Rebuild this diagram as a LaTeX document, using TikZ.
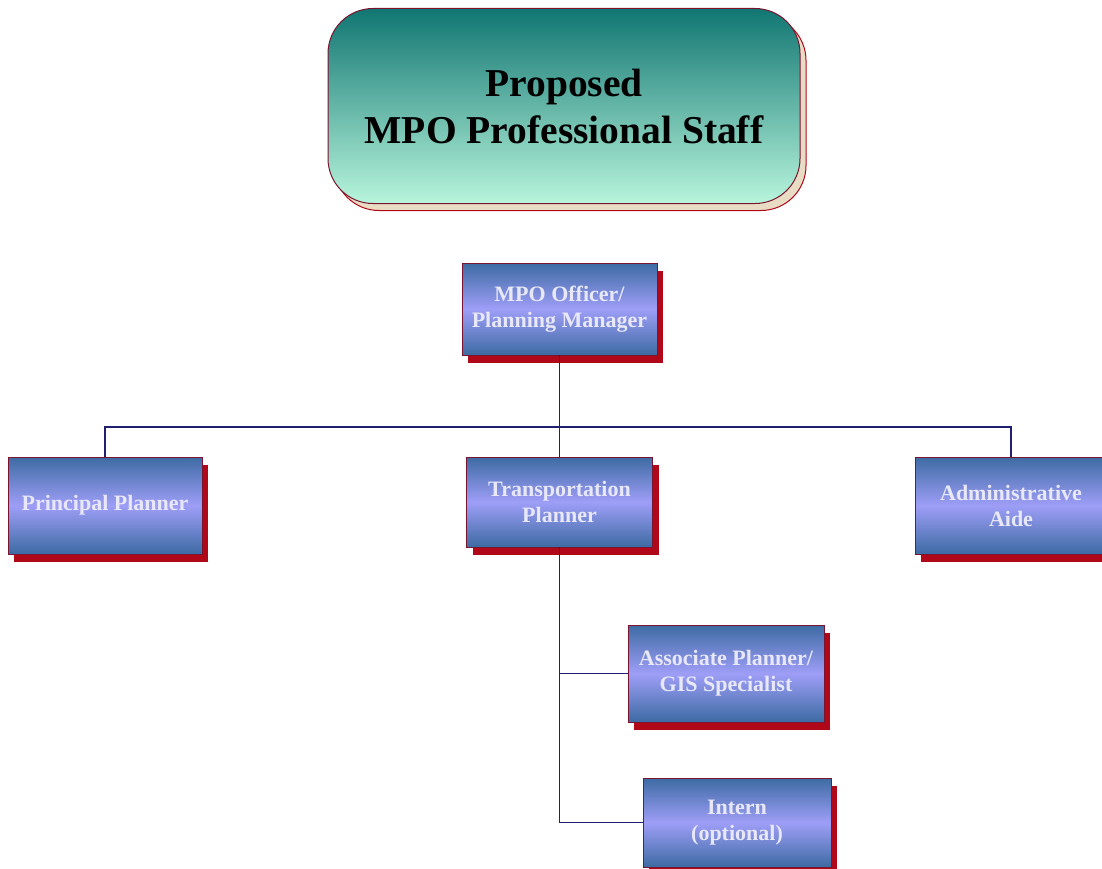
\documentclass[tikz,border=0pt]{standalone}
\usepackage{fontspec}
\setmainfont{Liberation Serif}
\usetikzlibrary{shadows}
\definecolor{steel}{HTML}{3D6BA3}
\definecolor{lavend}{HTML}{9E9EF7}
\definecolor{maroon}{HTML}{7A1530}
\definecolor{shadowred}{HTML}{B00818}
\definecolor{navy}{HTML}{20206E}
\definecolor{tealtop}{HTML}{117672}
\definecolor{mint}{HTML}{B8F5DC}
\definecolor{paper}{HTML}{E9DCC4}
\definecolor{pale}{HTML}{E8E8F8}

\begin{document}
\begin{tikzpicture}[x=1pt,y=-1pt,
  staff/.style={draw=maroon,line width=0.8pt,top color=steel,bottom color=steel,middle color=lavend,
    text=pale,font=\fontsize{22}{26}\selectfont\bfseries,align=center,inner sep=0pt,
    drop shadow={shadow xshift=6pt,shadow yshift=-8pt,fill=shadowred,opacity=1}},
  wire/.style={draw=navy,line width=1.3pt}]
\useasboundingbox (0,0) rectangle (1102,869);
\node [draw=maroon,line width=1pt,rounded corners=45pt,top color=tealtop,bottom color=mint,
  minimum width=472pt,minimum height=195pt,align=center,font=\fontsize{39.5}{47}\selectfont\bfseries,
  copy shadow={shadow xshift=6pt,shadow yshift=-7pt,fill=paper,draw=shadowred,line width=1pt}]
  (title) at (564,106) {Proposed\\MPO Professional Staff};
\node [staff,minimum width=195pt,minimum height=92pt] (officer) at (559.5,309) {MPO Officer/\\Planning Manager};
\node [staff,minimum width=194pt,minimum height=97pt] (principal) at (105,505.5) {Principal Planner};
\node [staff,minimum width=186pt,minimum height=90pt] (transport) at (559.5,502) {Transportation\\Planner};
\node [staff,minimum width=192pt,minimum height=97pt] (admin) at (1011,505.5) {Administrative\\Aide};
\node [staff,minimum width=196pt,minimum height=97pt] (associate) at (726,673.5) {Associate Planner/\\GIS Specialist};
\node [staff,minimum width=188pt,minimum height=89pt] (intern) at (737,822.5) {Intern\\(optional)};
\coordinate (bus) at (0,427);
\draw [wire] (officer.south) -- (transport.north);
\draw [wire] (principal.north) -- (principal.north |- bus) -- (admin.north |- bus) -- (admin.north);
\draw [wire] (transport.south) -- (transport.south |- intern.west) -- (intern.west);
\draw [wire] (transport.south |- associate.west) -- (associate.west);
\end{tikzpicture}
\end{document}
